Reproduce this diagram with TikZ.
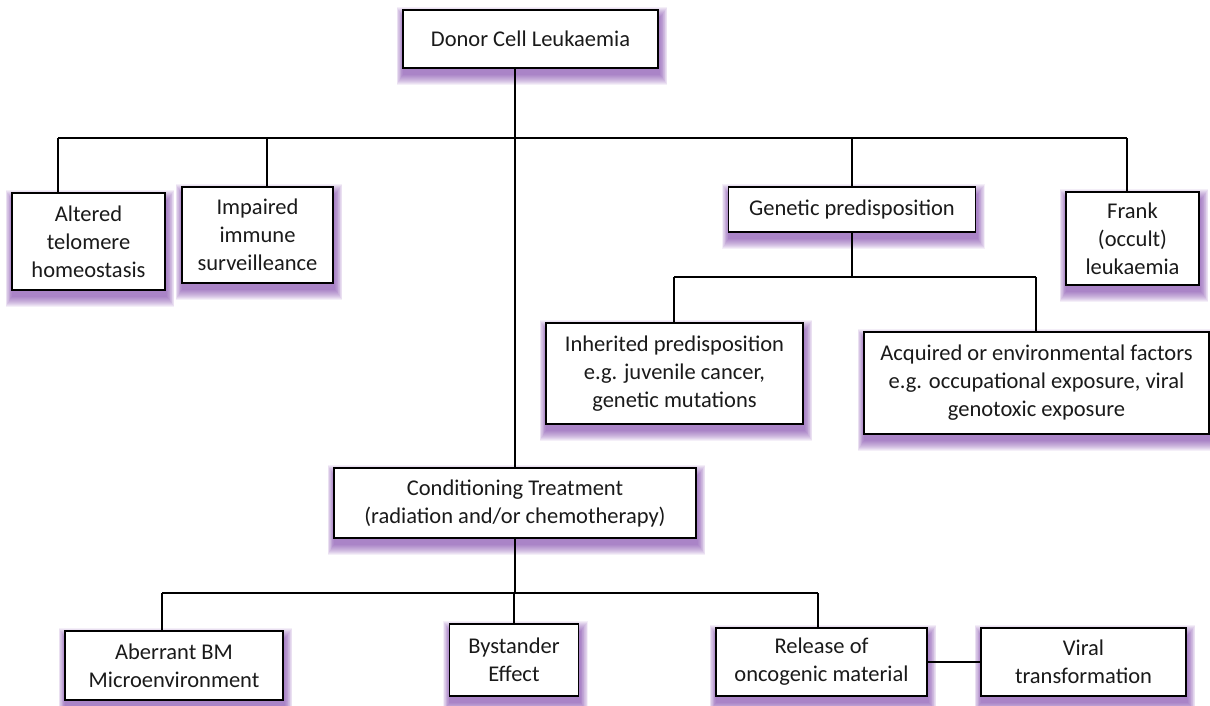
\documentclass[tikz,border=0pt]{standalone}
\usepackage{fontspec}
\setmainfont{Carlito}
\usetikzlibrary{backgrounds}
\definecolor{glow}{HTML}{7030A0}
\definecolor{txt}{HTML}{1A1A1A}
\tikzset{
  box/.style={draw=black, line width=1.8pt, fill=white, align=center, inner sep=0pt,
    text=txt, font=\fontsize{22.5}{28}\selectfont},
  glowlayer/.style={fill=glow, opacity=0.08},
  conn/.style={draw=black, line width=1.4pt}
}
\newcommand\glowof[1]{%
  \foreach \r in {0,1,...,10} {%
    \fill[glowlayer] ([xshift={(0.5-0.6*\r)*1pt}, yshift={(\r-8)*1pt}]#1.north west) rectangle ([xshift={(1.5+0.7*\r)*1pt}, yshift={(-\r-6)*1pt}]#1.south east);
  }}
\begin{document}
\begin{tikzpicture}[x=1pt, y=-1pt]
\useasboundingbox (0,0) rectangle (1210,705);
\node[box, minimum width=255pt, minimum height=58pt] (donor) at (530.5,39) {Donor Cell Leukaemia};
\node[box, minimum width=153pt, minimum height=97pt] (alt) at (88.5,241.5) {Altered\\telomere\\homeostasis};
\node[box, minimum width=151pt, minimum height=96pt] (imp) at (257.5,235) {Impaired\\immune\\surveilleance};
\node[box, minimum width=247pt, minimum height=45pt] (gen) at (852,209.5) {Genetic predisposition};
\node[box, minimum width=133pt, minimum height=93pt] (frank) at (1132.5,238.5) {Frank\\(occult)\\leukaemia};
\node[box, minimum width=257pt, minimum height=101pt] (inh) at (674.5,373.5) {Inherited predisposition\\e.g. juvenile cancer,\\genetic mutations};
\node[box, minimum width=345pt, minimum height=102pt] (acq) at (1036.5,383) {Acquired or environmental factors\\e.g. occupational exposure, viral\\genotoxic exposure};
\node[box, minimum width=362pt, minimum height=70pt] (cond) at (515,503) {Conditioning Treatment\\(radiation and/or chemotherapy)};
\node[box, minimum width=218pt, minimum height=69pt] (abr) at (174,665.5) {Aberrant BM\\Microenvironment};
\node[box, minimum width=129pt, minimum height=72pt] (bys) at (514,660) {Bystander\\Effect};
\node[box, minimum width=211pt, minimum height=68pt] (rel) at (821.5,662) {Release of\\oncogenic material};
\node[box, minimum width=205pt, minimum height=68pt] (vir) at (1083.5,662) {Viral\\transformation};
\begin{scope}[on background layer]
  \foreach \n in {donor,alt,imp,gen,frank,inh,acq,cond,abr,bys,rel,vir} {\glowof{\n}}
\end{scope}
% bus coordinates
\coordinate (b1L) at (58,138);
\coordinate (b1I) at (267,138);
\coordinate (b1R) at (1127,138);
\coordinate (b2) at (850,277);
\coordinate (b2L) at (674,277);
\coordinate (b2R) at (1036,277);
\coordinate (b3L) at (162,593);
\coordinate (b3R) at (818,593);
% connectors
\draw[conn] (donor.south -| cond.north) -- (cond.north);
\draw[conn] (b1L) -- (b1R);
\draw[conn] (b1L) -- (b1L |- alt.north);
\draw[conn] (b1I) -- (b1I |- imp.north);
\draw[conn] (gen.north |- b1R) -- (gen.north);
\draw[conn] (b1R) -- (b1R |- frank.north);
\draw[conn] (gen.south) -- (gen.south |- b2);
\draw[conn] (b2L) -- (b2R);
\draw[conn] (b2L) -- (b2L |- inh.north);
\draw[conn] (b2R) -- (b2R |- acq.north);
\draw[conn] (cond.south) -- (cond.south |- b3L);
\draw[conn] (b3L) -- (b3R);
\draw[conn] (b3L) -- (b3L |- abr.north);
\draw[conn] (bys.north |- b3L) -- (bys.north);
\draw[conn] (b3R) -- (b3R |- rel.north);
\draw[conn] (rel.east) -- (vir.west);
\end{tikzpicture}
\end{document}
